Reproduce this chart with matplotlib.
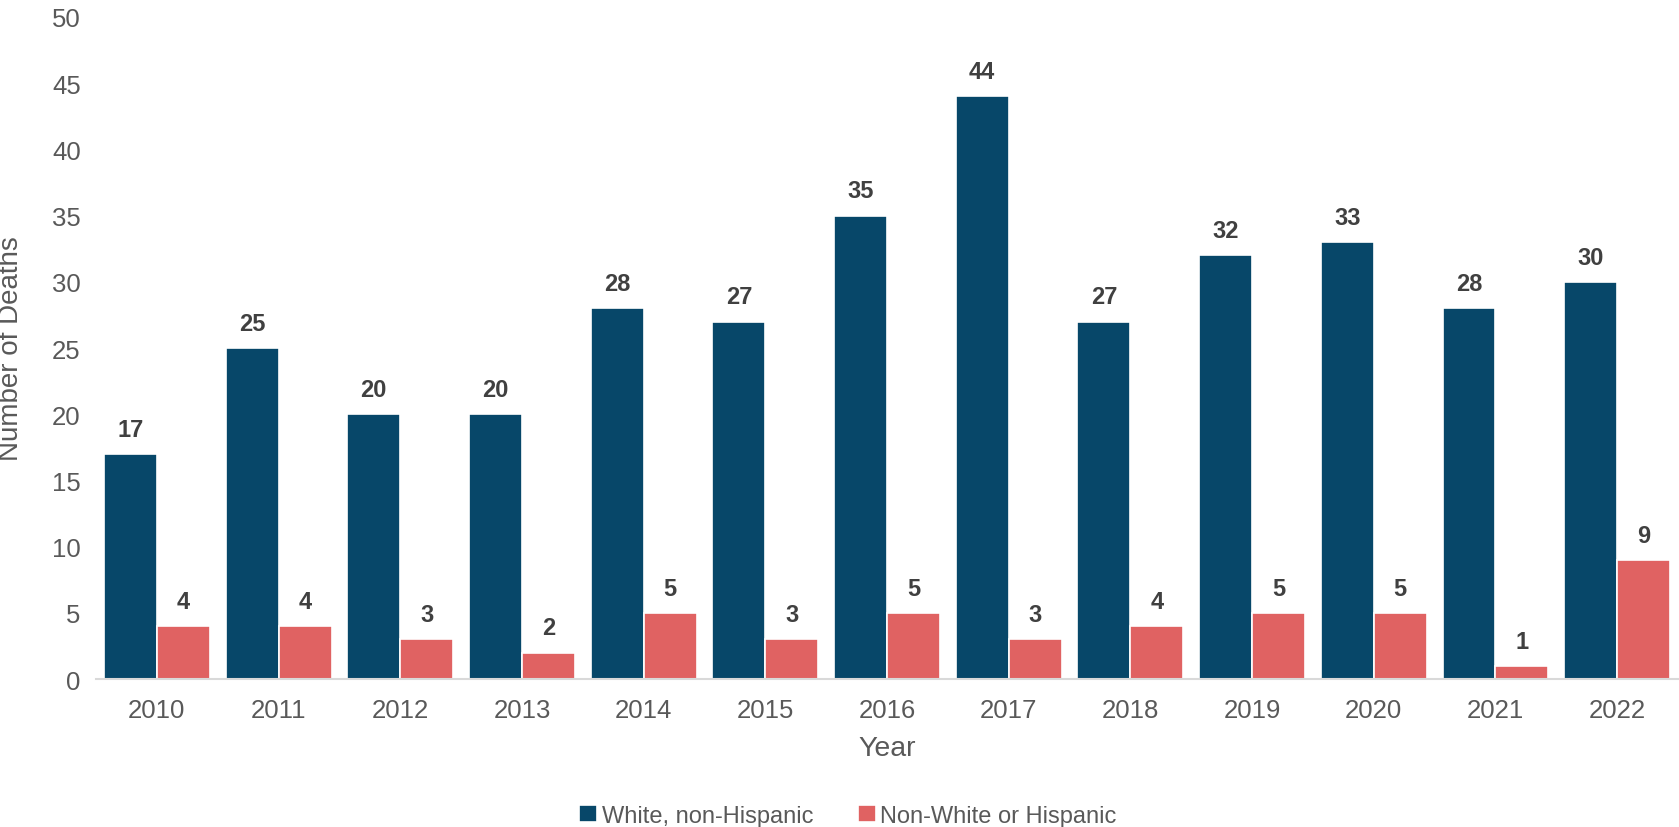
import matplotlib
matplotlib.use("Agg")
import matplotlib.pyplot as plt
import numpy as np

plt.rcParams['font.family'] = ['Liberation Sans', 'DejaVu Sans']

years = ['2010', '2011', '2012', '2013', '2014', '2015', '2016',
         '2017', '2018', '2019', '2020', '2021', '2022']
white_non_hispanic = [17, 25, 20, 20, 28, 27, 35, 44, 27, 32, 33, 28, 30]
non_white_or_hispanic = [4, 4, 3, 2, 5, 3, 5, 3, 4, 5, 5, 1, 9]

blue = '#074769'
red = '#E06262'
grey = '#595959'

fig = plt.figure(figsize=(16.79, 8.28), dpi=100)
ax = fig.add_axes([0.0572, 0.1787, 0.9422, 0.7996])

x = np.arange(len(years))
w = 0.435
b1 = ax.bar(x - w / 2, white_non_hispanic, w, color=blue, edgecolor='white',
            linewidth=1.2, label='White, non-Hispanic')
b2 = ax.bar(x + w / 2, non_white_or_hispanic, w, color=red, edgecolor='white',
            linewidth=1.2, label='Non-White or Hispanic')

for bars, vals in ((b1, white_non_hispanic), (b2, non_white_or_hispanic)):
    for rect, v in zip(bars, vals):
        ax.annotate(str(v), (rect.get_x() + rect.get_width() / 2, v),
                    xytext=(0, 9.5), textcoords='offset points',
                    ha='center', va='bottom', fontsize=17,
                    fontweight='bold', color='#404040')

ax.set_xlim(-0.5, len(years) - 0.5)
ax.set_ylim(0, 50)
ax.set_yticks(range(0, 51, 5))
ax.set_xticks(x)
ax.set_xticklabels(years)
ax.tick_params(axis='both', length=0, labelsize=18.5, colors=grey)
ax.tick_params(axis='x', pad=14)
ax.tick_params(axis='y', pad=11)

for s in ('top', 'right', 'left'):
    ax.spines[s].set_visible(False)
ax.spines['bottom'].set_color('#D9D9D9')
ax.spines['bottom'].set_linewidth(1.5)

ax.set_xlabel('Year', fontsize=20.5, color=grey, labelpad=9)
ax.set_ylabel('Number of Deaths', fontsize=20, color=grey)
ax.yaxis.set_label_coords(-0.0458, 0.5)

fig.legend(handles=[b1, b2], loc='center', bbox_to_anchor=(848 / 1679, 1 - 817 / 828),
           ncol=2, frameon=False, fontsize=17, handlelength=0.75,
           handleheight=0.75, handletextpad=0.2, columnspacing=1.9,
           labelcolor=grey)

fig.savefig('out.png', dpi=100)
